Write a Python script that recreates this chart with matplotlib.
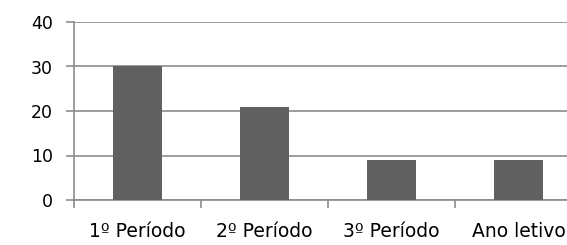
import matplotlib
matplotlib.use("Agg")
import matplotlib.pyplot as plt

categories = ["1º Período", "2º Período", "3º Período", "Ano letivo"]
values = [30, 21, 9, 9]
yticks = [0, 10, 20, 30, 40]

plt.rcParams['font.family'] = ['DejaVu Sans']

fig = plt.figure(figsize=(5.67, 2.45), dpi=100)
ax = fig.add_axes([74 / 567, 45 / 245, 1 - 74 / 567, 178 / 245])

ax.bar(range(len(values)), values, width=0.39, color="#616161", zorder=3)

ax.set_xlim(-0.5, 3.38)
ax.set_ylim(0, 40)
ax.set_yticks(yticks)
ax.set_yticklabels([str(v) for v in yticks], fontsize=12.5)
ax.yaxis.grid(True, color="#8c8c8c", linewidth=1.2, zorder=0)

ax.set_xticks(range(len(categories)))
ax.set_xticklabels(categories, fontsize=13.5)
ax.tick_params(axis="x", which="major", length=0, pad=16)
ax.set_xticks([-0.5, 0.5, 1.5, 2.5], minor=True)
ax.tick_params(axis="x", which="minor", length=6, color="#8c8c8c", width=1.2)
ax.tick_params(axis="y", length=6, color="#8c8c8c", width=1.2, pad=9)

for s in ["top", "right"]:
    ax.spines[s].set_visible(False)
for s in ["left", "bottom"]:
    ax.spines[s].set_color("#8c8c8c")
    ax.spines[s].set_linewidth(1.2)

fig.savefig("out.png", dpi=100)
